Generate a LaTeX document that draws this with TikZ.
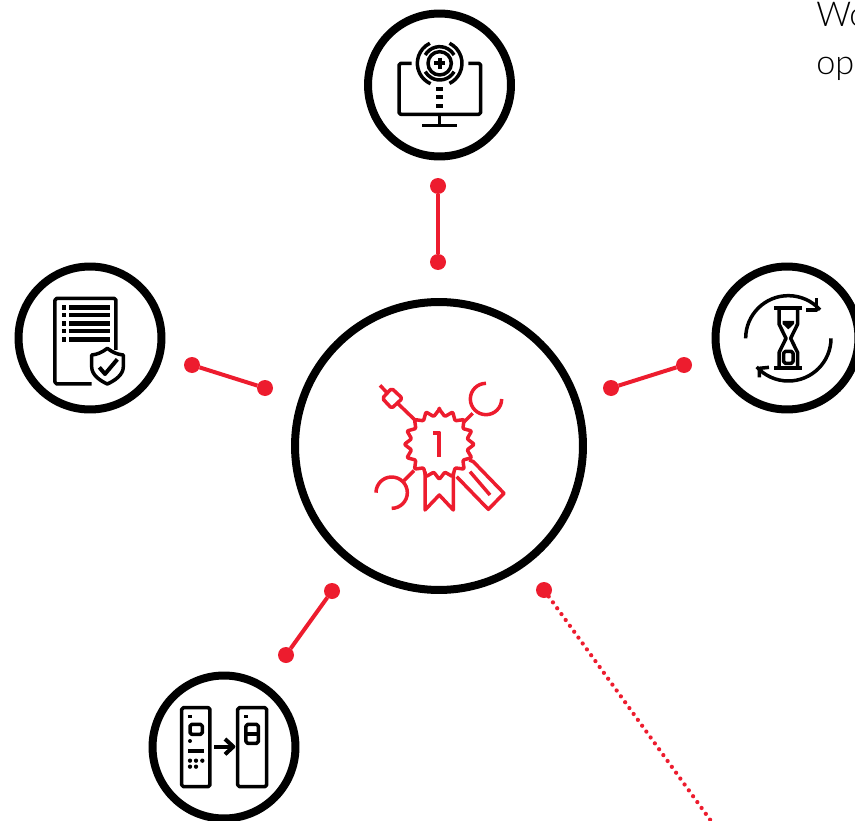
\documentclass[tikz,border=0pt]{standalone}
\usepackage{fontspec}
\setmainfont{Lato}[UprightFont=* Light]
\usetikzlibrary{positioning, calc}
\usetikzlibrary{arrows.meta}
\definecolor{hubred}{HTML}{ED1C2E}

\begin{document}
\begin{tikzpicture}[x=0.02cm,y=-0.02cm]
	\def \iconx{0.006667cm}
	\def \icony{-0.006667cm}
	\tikzstyle{ring}=[circle,draw=black,line width=0.16cm,inner sep=0pt,outer sep=0pt,minimum size=2.86cm]
	\tikzstyle{hub}=[ring,minimum size=5.76cm]
	\tikzstyle{r-dot}=[circle,fill=hubred,inner sep=0pt,outer sep=0pt,minimum size=0.32cm]
	\tikzstyle{link}=[draw=hubred,line width=0.08cm]
	\tikzstyle{dotlink}=[draw=hubred,line width=0.085cm,line cap=round,dash pattern=on 0pt off 0.145cm]
	\tikzstyle{red-icon}=[draw=hubred,line width=0.07cm,line join=round,x=\iconx,y=\icony]
	\tikzstyle{blk-icon}=[draw=black,line width=0.07cm,line join=round,x=\iconx,y=\icony]
	\tikzstyle{blk-fill}=[fill=black,draw=none]
	\tikzstyle{para}=[anchor=base west,inner sep=0pt,text=black]

	\useasboundingbox (0,0) rectangle (855,821);
	\clip (0,0) rectangle (855,821);

	% text at the edge
	\node[para,font=\fontsize{19.5}{19.5}\selectfont] 	(line1)	at (816,27)	{Wo};
	\node[para,font=\fontsize{19.5}{19.5}\selectfont] 	(line2)	at (816,75)	{op};

	% circles
	\node[hub] 	(centre)	at (439,446)	{};
	\node[ring] 	(monitor)	at (439.5,85)	{};
	\node[ring] 	(policy)	at (90,338)	{};
	\node[ring] 	(hourglass)	at (787,338)	{};
	\node[ring] 	(remotes)	at (224,747)	{};

	% connector ends
	\node[r-dot] 	(t0)	at (438,186)	{};
	\node[r-dot] 	(t1)	at (438,262)	{};
	\node[r-dot] 	(l0)	at (192,365)	{};
	\node[r-dot] 	(l1)	at (265,388)	{};
	\node[r-dot] 	(r0)	at (684,365)	{};
	\node[r-dot] 	(r1)	at (611,388)	{};
	\node[r-dot] 	(b0)	at (332,591)	{};
	\node[r-dot] 	(b1)	at (286,655)	{};
	\node[r-dot] 	(d0)	at (544,590)	{};
	\coordinate 	(d1)	at (711,821);

	\path[link]
		(t0)	edge	(t1)
		(l0)	edge	(l1)
		(r0)	edge	(r1)
		(b0)	edge	(b1);
	\path[dotlink] (d0) edge (d1);

	% centre icon
	\begin{scope}[shift={(350,360)},red-icon]
		\draw[rounded corners=0.6pt] plot[samples at={0,...,32}] ({268+(95+10*(1-2*mod(\x,2)))*cos(\x*11.25-90)},{253+(95+10*(1-2*mod(\x,2)))*sin(\x*11.25-90)}) -- cycle;
		\draw[line width=0.08cm] (250,218) -- (268,218) -- (268,290);
		\draw (225,335) -- (225,450) -- (268,405) -- (310,450) -- (310,338);
		\draw (358,300) -- (370,305) -- (462,400) -- (415,448) -- (320,350);
		\draw (360,335) -- (420,405);
		\draw ([shift=(-90:47)]408,117) arc (-90:-360:47);
		\draw (368,160) -- (342,186);
		\draw ([shift=(180:47)]125,398) arc (180:450:47);
		\draw (162,362) -- (192,332);
		\draw[rounded corners=1pt] (125,85) -- (157,115) -- (125,145) -- (97,115) -- cycle;
		\draw (90,76) -- (110,97);
		\draw (145,132) -- (200,185);
	\end{scope}

	% monitor icon
	\begin{scope}[shift={(360,5)},blk-icon]
		\draw[rounded corners=1pt] (155,175) -- (117,175) -- (117,328) -- (362,328) -- (362,175) -- (325,175);
		\draw (239,328) -- (239,362);
		\draw (186,362) -- (292,362);
		\foreach \y in {252,276,302}
			\fill[blk-fill] (228,\y-6) rectangle (250,\y+6);
		\draw (239,175) circle (35);
		\draw[line width=0.085cm] (222,175) -- (256,175);
		\draw[line width=0.085cm] (239,158) -- (239,192);
		\draw ([shift=(244:67)]239,175) arc (244:114:67);
		\draw ([shift=(-64:67)]239,175) arc (-64:64:67);
		\draw ([shift=(-150:50)]239,175) arc (-150:-30:50);
		\draw ([shift=(30:50)]239,175) arc (30:150:50);
	\end{scope}

	% policy icon
	\begin{scope}[shift={(10,260)},blk-icon]
		\draw[rounded corners=1pt] (318,270) -- (318,115) -- (135,115) -- (135,372) -- (245,372);
		\foreach \y in {142,165,190,213,238} {
			\fill[blk-fill] (155,\y-7) rectangle (168,\y+7);
			\fill[blk-fill] (177,\y-7) rectangle (300,\y+7);
		}
		\draw[fill=white] (292,265) .. controls (275,278) and (262,283) .. (245,285) -- (245,320) .. controls (245,345) and (270,362) .. (292,372) .. controls (314,362) and (340,345) .. (340,320) -- (340,285) .. controls (322,283) and (309,278) .. (292,265) -- cycle;
		\draw[line width=0.08cm] (268,322) -- (285,342) -- (322,298);
	\end{scope}

	% hourglass icon
	\begin{scope}[shift={(705,260)},blk-icon]
		\draw[line width=0.085cm] (208,145) -- (290,145);
		\draw[line width=0.085cm] (208,325) -- (290,325);
		\draw (222,150) -- (222,192) -- (243,235) -- (222,278) -- (222,322);
		\draw (278,150) -- (278,192) -- (257,235) -- (278,278) -- (278,322);
		\fill[blk-fill] (233,183) -- (267,183) -- (267,192) -- (250,208) -- (233,192) -- cycle;
		\draw[rounded corners=1pt] (236,274) rectangle (264,310);
		\draw ([shift=(180:128)]250,235) arc (180:318:128);
		\draw (335,115) -- (335,150) -- (303,150);
		\draw ([shift=(0:128)]250,235) arc (0:138:128);
		\draw (192,322) -- (163,325) -- (163,352);
	\end{scope}

	% remotes icon
	\begin{scope}[shift={(145,665)},blk-icon]
		\draw[rounded corners=1pt] (110,128) rectangle (195,365);
		\draw[rounded corners=1pt] (278,128) rectangle (365,365);
		\fill[blk-fill] (130,150) rectangle (140,160);
		\fill[blk-fill] (298,150) rectangle (308,160);
		\draw[rounded corners=1pt] (135,178) rectangle (172,208);
		\fill[blk-fill] (135,228) circle (6);
		\draw[line width=0.085cm] (130,258) -- (177,258);
		\foreach \x in {135,153,172}
			\fill[blk-fill] (\x,287) circle (6.5);
		\foreach \x in {135,153}
			\fill[blk-fill] (\x,305) circle (6.5);
		\draw[line width=0.08cm] (208,245) -- (265,245);
		\draw[line width=0.08cm] (240,222) -- (265,245) -- (240,268);
		\draw[rounded corners=1pt] (303,178) rectangle (340,235);
		\draw (303,207) -- (340,207);
	\end{scope}
\end{tikzpicture}
\end{document}
